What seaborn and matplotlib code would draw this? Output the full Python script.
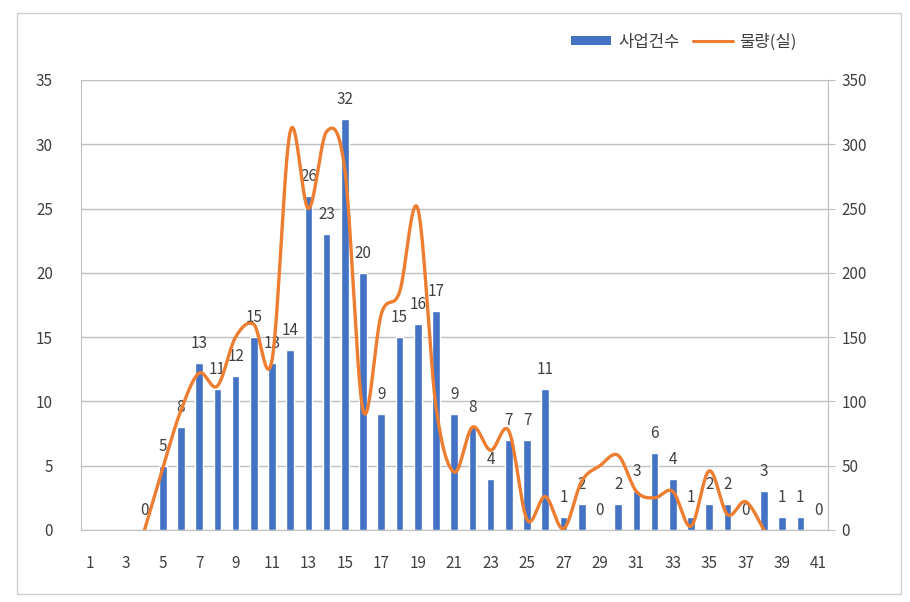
import numpy as np
import pandas as pd
import matplotlib
matplotlib.use("Agg")
import matplotlib.pyplot as plt
import seaborn as sns
from matplotlib.patches import Patch, Rectangle
from matplotlib.lines import Line2D

# 구간 1~41
sections = [str(i) for i in range(1, 42)]
# 사업건수 (left axis)
counts = [np.nan, np.nan, np.nan, 0, 5, 8, 13, 11, 12, 15, 13, 14, 26, 23, 32, 20, 9, 15, 16, 17,
          9, 8, 4, 7, 7, 11, 1, 2, 0, 2, 3, 6, 4, 1, 2, 2, 0, 3, 1, 1, 0]
# 물량(실) (right axis)
volume = [np.nan, np.nan, np.nan, 0, 48, 93, 122, 112, 150, 160, 132, 310, 250, 310, 280, 93,
          168, 185, 250, 96, 45, 80, 62, 77, 8, 26, 1, 38, 50, 58, 30, 25, 30, 3, 46, 12, 22, 0,
          np.nan, np.nan, np.nan]

BLUE = "#4472C4"
ORANGE = "#ED7D31"
GRID = "#bfbfbf"
TXT = "#404040"

sns.set_style("white")
plt.rcParams['font.family'] = ['Noto Sans CJK KR', 'DejaVu Sans']

df = pd.DataFrame({'구간': sections, '사업건수': counts, '물량(실)': volume})

fig = plt.figure(figsize=(9.1, 6.02), dpi=100)
ax = fig.add_axes([80.7 / 910, 72 / 602, (827.7 - 80.7) / 910, 450 / 602])

sns.barplot(data=df, x='구간', y='사업건수', order=sections, color=BLUE, saturation=1,
            width=0.42, errorbar=None, ax=ax, zorder=3)

ax.set_xlim(-0.5, 40.5)
ax.set_ylim(0, 35)
ax.set_yticks(np.arange(0, 36, 5))
ax.yaxis.grid(True, color=GRID, lw=1)
ax.set_axisbelow(True)
ax.set_xlabel('')
ax.set_ylabel('')

# x ticks: labels on odd sections, marks on category boundaries
ax.set_xticks(range(0, 41, 2))
ax.set_xticklabels(sections[::2])
ax.set_xticks(np.arange(-0.5, 41, 1), minor=True)
ax.tick_params(axis='x', which='major', length=0, pad=18, labelsize=11, labelcolor=TXT)
ax.tick_params(axis='x', which='minor', length=6, width=1, color=GRID, direction='out')
ax.tick_params(axis='y', length=0, pad=20, labelsize=11, labelcolor=TXT)

ax.spines['top'].set_visible(False)
for s in ['left', 'right', 'bottom']:
    ax.spines[s].set_color(GRID)

# data labels
for i, v in enumerate(counts):
    if not np.isnan(v):
        ax.annotate(f"{int(v)}", xy=(i, v), xytext=(0, 14), textcoords='offset points',
                    ha='center', va='center', fontsize=11, color=TXT, zorder=5)

# right axis with smoothed line
ax2 = ax.twinx()
ax2.set_ylim(0, 350)
ax2.set_yticks(np.arange(0, 351, 50))
ax2.tick_params(axis='y', length=5, color=GRID, pad=5, labelsize=11, labelcolor=TXT)
for s in ['top', 'left', 'bottom']:
    ax2.spines[s].set_visible(False)
ax2.spines['right'].set_color(GRID)


def smooth(axis, xs, ys, n=40, k=1 / 6):
    pts = axis.transData.transform(np.column_stack([xs, ys]))
    out = []
    m = len(pts)
    for i in range(m - 1):
        p0 = pts[max(i - 1, 0)]
        p1 = pts[i]
        p2 = pts[i + 1]
        p3 = pts[min(i + 2, m - 1)]
        c1 = p1 + (p2 - p0) * k
        c2 = p2 - (p3 - p1) * k
        t = np.linspace(0, 1, n)[:, None]
        seg = (1 - t) ** 3 * p1 + 3 * (1 - t) ** 2 * t * c1 + 3 * (1 - t) * t ** 2 * c2 + t ** 3 * p2
        out.append(seg if i == 0 else seg[1:])
    return axis.transData.inverted().transform(np.vstack(out))


vol = np.array(volume, dtype=float)
ok = ~np.isnan(vol)
xs = np.arange(len(vol))[ok]
curve = smooth(ax2, xs, vol[ok])
ax2.plot(curve[:, 0], curve[:, 1], color=ORANGE, lw=2.4, solid_capstyle='round', zorder=4)

# legend
handles = [Patch(facecolor=BLUE, edgecolor='none'), Line2D([], [], color=ORANGE, lw=2.2)]
fig.legend(handles, ['사업건수', '물량(실)'], loc='center', bbox_to_anchor=(684 / 910, 1 - 42 / 602),
           ncol=2, frameon=False, fontsize=12, handlelength=2.4, handleheight=0.5,
           handletextpad=0.4, columnspacing=0.8, labelcolor=TXT)

# chart area border
fig.patches.append(Rectangle((17 / 910, 8 / 602), 884 / 910, 581 / 602, transform=fig.transFigure,
                             fill=False, edgecolor='#d0d0d0', lw=1))

fig.savefig("out.png", dpi=100)
